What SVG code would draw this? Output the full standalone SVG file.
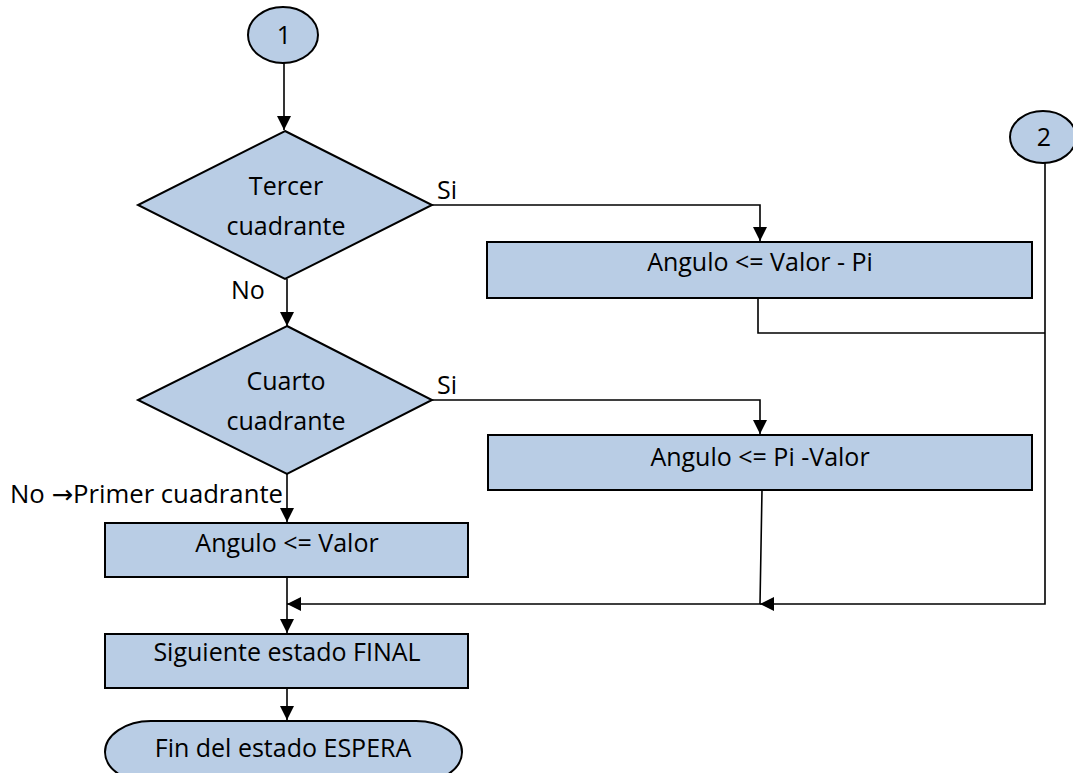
<svg xmlns="http://www.w3.org/2000/svg" width="1073" height="773" viewBox="0 0 1073 773">
  <style>
    .shape { fill: #b9cde5; stroke: #000; stroke-width: 2; }
    .wire { fill: none; stroke: #000; stroke-width: 1.6; }
    text { font-family: "Open Sans", "Liberation Sans", sans-serif; font-size: 25px; fill: #000; }
    .c { text-anchor: middle; }
    .sym { font-family: "DejaVu Sans", sans-serif; }
  </style>
  <defs>
    <marker id="head" viewBox="0 0 14 14" refX="14" refY="7" markerWidth="14" markerHeight="14" markerUnits="userSpaceOnUse" orient="auto">
      <path d="M0,0 L14,7 L0,14 Z" fill="#000"/>
    </marker>
  </defs>

  <!-- connectors -->
  <g id="connectors">
    <path class="wire" d="M284,63 L284,130" marker-end="url(#head)"/>
    <path class="wire" d="M432,205 L760,205 L760,241" marker-end="url(#head)"/>
    <path class="wire" d="M758,298 L758,333 L1045,333"/>
    <path class="wire" d="M1045,162 L1045,604 L760,604" marker-end="url(#head)"/>
    <path class="wire" d="M287,279 L287,326" marker-end="url(#head)"/>
    <path class="wire" d="M432,400 L760,400 L760,434" marker-end="url(#head)"/>
    <path class="wire" d="M762,490 L760,604 L287,604" marker-end="url(#head)"/>
    <path class="wire" d="M287,474 L287,522" marker-end="url(#head)"/>
    <path class="wire" d="M287,577 L287,633" marker-end="url(#head)"/>
    <path class="wire" d="M287,688 L287,720" marker-end="url(#head)"/>
  </g>

  <!-- connector labels -->
  <g id="labels">
    <text x="437" y="199">Si</text>
    <text x="231" y="299">No</text>
    <text x="437" y="394">Si</text>
    <text x="10" y="503" textLength="273" lengthAdjust="spacingAndGlyphs">No <tspan class="sym">→</tspan>Primer cuadrante</text>
  </g>

  <g id="start1">
    <ellipse class="shape" cx="283" cy="35" rx="35" ry="28"/>
    <text class="c" x="284" y="44">1</text>
  </g>

  <g id="start2">
    <ellipse class="shape" cx="1043" cy="137" rx="33" ry="26"/>
    <text class="c" x="1044" y="146">2</text>
  </g>

  <g id="decision1">
    <polygon class="shape" points="285,131 432,205 285,279 138,205"/>
    <text class="c" x="286" y="195">Tercer</text>
    <text class="c" x="286" y="235">cuadrante</text>
  </g>

  <g id="decision2">
    <polygon class="shape" points="287,326 432,400 287,474 138,400"/>
    <text class="c" x="286" y="390">Cuarto</text>
    <text class="c" x="286" y="430">cuadrante</text>
  </g>

  <g id="proc-valor-pi">
    <rect class="shape" x="487" y="242" width="545" height="56"/>
    <text class="c" x="760" y="271">Angulo &lt;= Valor - Pi</text>
  </g>

  <g id="proc-pi-valor">
    <rect class="shape" x="488" y="435" width="544" height="55"/>
    <text class="c" x="760" y="466">Angulo &lt;= Pi -Valor</text>
  </g>

  <g id="proc-valor">
    <rect class="shape" x="105" y="523" width="363" height="54"/>
    <text class="c" x="287" y="552">Angulo &lt;= Valor</text>
  </g>

  <g id="proc-final">
    <rect class="shape" x="105" y="634" width="363" height="54"/>
    <text class="c" x="287" y="661">Siguiente estado FINAL</text>
  </g>

  <g id="end">
    <rect class="shape" x="105" y="721" width="357" height="62" rx="46" ry="31"/>
    <text class="c" x="283" y="757">Fin del estado ESPERA</text>
  </g>
</svg>
